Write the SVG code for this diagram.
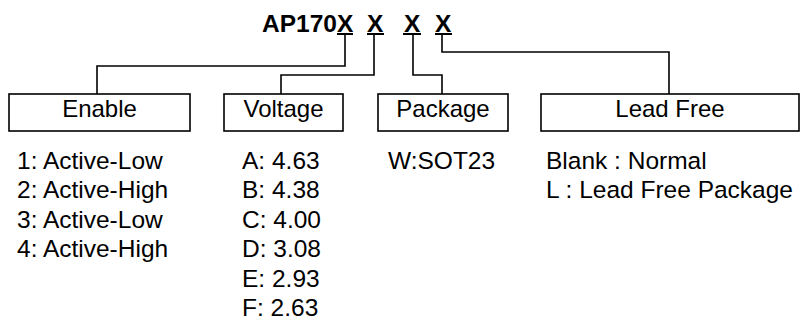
<svg xmlns="http://www.w3.org/2000/svg" width="801" height="320" viewBox="0 0 801 320">
<style>
text{font-family:"Liberation Sans",Arial,sans-serif;fill:#000}
.t{font-size:24.5px;font-weight:bold}
.lbl{font-size:24px;text-anchor:middle}
.lst{font-size:24.5px}
.box{fill:#fff;stroke:#000;stroke-width:1.6}
.wire{fill:none;stroke:#000;stroke-width:1.6}
.ul{stroke:#000;stroke-width:2}
</style>
<rect width="801" height="320" fill="#fff"/>
<g id="title">
<text class="t" x="262" y="32">AP170</text>
<text class="t" x="337" y="32">X</text>
<text class="t" x="367" y="32">X</text>
<text class="t" x="404" y="32">X</text>
<text class="t" x="435" y="32">X</text>
<line class="ul" x1="337" y1="34" x2="353" y2="34"/>
<line class="ul" x1="367" y1="34" x2="384" y2="34"/>
<line class="ul" x1="403" y1="34" x2="421" y2="34"/>
<line class="ul" x1="435" y1="34" x2="452" y2="34"/>
</g>
<g id="connectors">
<path class="wire" d="M345 35V66H97V94"/>
<path class="wire" d="M374 35V75H281V94"/>
<path class="wire" d="M413 35V75H442V94"/>
<path class="wire" d="M442 35V52H669V94"/>
</g>
<g id="enable">
<rect class="box" x="9" y="94" width="181" height="37"/>
<text class="lbl" x="99.5" y="117">Enable</text>
<text class="lst" x="17" y="169">1: Active-Low</text>
<text class="lst" x="17" y="198.4">2: Active-High</text>
<text class="lst" x="17" y="227.8">3: Active-Low</text>
<text class="lst" x="17" y="257.2">4: Active-High</text>
</g>
<g id="voltage">
<rect class="box" x="224" y="94" width="119" height="37"/>
<text class="lbl" x="283.5" y="117">Voltage</text>
<text class="lst" x="242" y="169">A: 4.63</text>
<text class="lst" x="242" y="198.4">B: 4.38</text>
<text class="lst" x="242" y="227.8">C: 4.00</text>
<text class="lst" x="242" y="257.2">D: 3.08</text>
<text class="lst" x="242" y="286.6">E: 2.93</text>
<text class="lst" x="242" y="316">F: 2.63</text>
</g>
<g id="package">
<rect class="box" x="378" y="94" width="130" height="37"/>
<text class="lbl" x="443" y="117">Package</text>
<text class="lst" x="388" y="169">W:SOT23</text>
</g>
<g id="leadfree">
<rect class="box" x="541" y="94" width="258" height="37"/>
<text class="lbl" x="670" y="117">Lead Free</text>
<text class="lst" x="546" y="169">Blank : Normal</text>
<text class="lst" x="546" y="198.4">L : Lead Free Package</text>
</g>
</svg>
